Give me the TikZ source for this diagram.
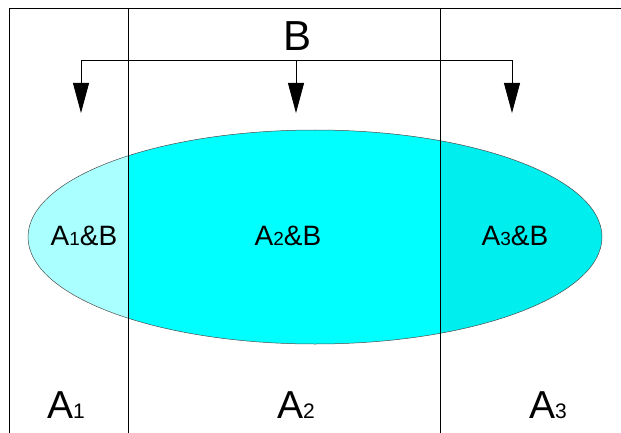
\documentclass[tikz,border=0pt]{standalone}
\usepackage{fontspec}
\setmainfont{Liberation Sans}
\usetikzlibrary{arrows.meta}

\definecolor{leftcyan}{RGB}{170,255,255}
\definecolor{midcyan}{RGB}{0,255,255}
\definecolor{rightcyan}{RGB}{0,238,238}

\newcommand{\setname}[3]{{\fontsize{#1}{#1}\selectfont A}{\fontsize{#2}{#2}\selectfont #3}}

\begin{document}
\begin{tikzpicture}[x=1pt,y=-1pt,line join=round,
  frameline/.style={line width=0.9pt},
  downarrow/.style={-{Triangle[length=30pt,width=16pt]},line width=0.8pt},
  partlabel/.style={inner sep=0pt}]
\useasboundingbox (0,0) rectangle (621,433);

%% ---------------- the ellipse, cut into three shades ----------
\begin{scope}
  \clip (0,0) rectangle (128,433);
  \fill[leftcyan] (315,237) ellipse [x radius=287pt,y radius=107pt];
\end{scope}
\begin{scope}
  \clip (128,0) rectangle (440,433);
  \fill[midcyan] (315,237) ellipse [x radius=287pt,y radius=107pt];
\end{scope}
\begin{scope}
  \clip (440,0) rectangle (621,433);
  \fill[rightcyan] (315,237) ellipse [x radius=287pt,y radius=107pt];
\end{scope}
\draw[black!70,line width=0.5pt] (315,237) ellipse [x radius=287pt,y radius=107pt];

%% ---------------- frame and the two dividers ----------
\coordinate (topleft) at (9,8);
\coordinate (topright) at (621,8);
\coordinate (botleft) at (9,433);
\draw[frameline] (botleft) -- (topleft) -- (topright);
\draw[frameline] (128,8) -- (128,433);
\draw[frameline] (440,8) -- (440,433);

%% ---------------- B and its three arrows ----------
\node[inner sep=0pt,font=\fontsize{42}{42}\selectfont] (setB) at (298,36) {B};
\coordinate (forkL) at (81,60);
\coordinate (forkM) at (296,60);
\coordinate (forkR) at (512,60);
\coordinate (tipL) at (81,113);
\coordinate (tipM) at (296,113);
\coordinate (tipR) at (512,113);
\draw[line width=0.8pt] (forkL) -- (forkR);
\draw[downarrow] (forkL) -- (tipL);
\draw[downarrow] (forkM) -- (tipM);
\draw[downarrow] (forkR) -- (tipR);

%% ---------------- labels inside the ellipse ----------
\node[partlabel] (capA1) at (84,236) {\setname{28}{19}{1}{\fontsize{28}{28}\selectfont\&B}};
\node[partlabel] (capA2) at (288,236) {\setname{28}{19}{2}{\fontsize{28}{28}\selectfont\&B}};
\node[partlabel] (capA3) at (515,236) {\setname{28}{19}{3}{\fontsize{28}{28}\selectfont\&B}};

%% ---------------- the three parts of A ----------
\node[anchor=base,inner sep=0pt] (setA1) at (66,418) {\setname{39}{21}{1}};
\node[anchor=base,inner sep=0pt] (setA2) at (296,418) {\setname{39}{21}{2}};
\node[anchor=base,inner sep=0pt] (setA3) at (548,418) {\setname{39}{21}{3}};

\end{tikzpicture}
\end{document}
